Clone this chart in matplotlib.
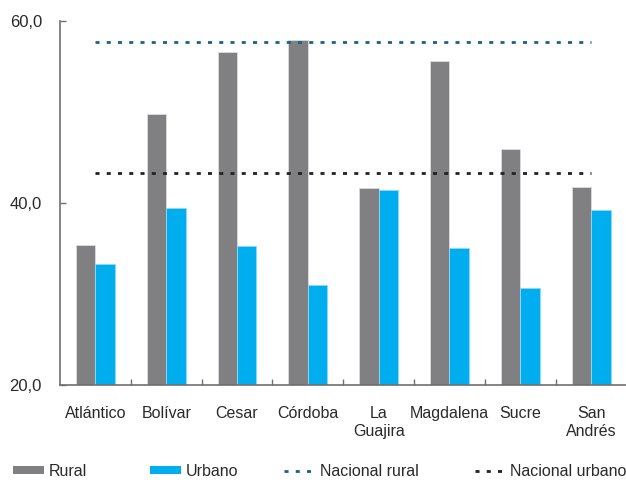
import matplotlib
matplotlib.use("Agg")
import matplotlib.pyplot as plt
from matplotlib.lines import Line2D
from matplotlib.patches import Patch
import numpy as np

plt.rcParams['font.family'] = ['Liberation Sans', 'DejaVu Sans']

categories = ["Atlántico", "Bolívar", "Cesar", "Córdoba", "La\nGuajira",
              "Magdalena", "Sucre", "San\nAndrés"]
rural = [35.4, 49.8, 56.6, 57.9, 41.6, 55.6, 45.9, 41.8]
urbano = [33.3, 39.4, 35.3, 31.0, 41.4, 35.1, 30.7, 39.2]
nacional_rural = 57.7
nacional_urbano = 43.3
yticks = [20, 40, 60]
ytick_labels = ["20,0", "40,0", "60,0"]

c_rural = "#808083"
c_urbano = "#00AEEF"
c_nac_rural = "#1b6382"
c_nac_urbano = "#222222"
txt = "#2a2a2a"
spine_c = "#6f6f6f"
dash = (1.45, 2.6)
ref_lw = 2.0

fig = plt.figure(figsize=(6.26, 4.80), dpi=100)
ax = fig.add_axes([0.0958, 0.198, 0.905, 0.758])

x = np.arange(len(categories))
w = 0.275
ax.bar(x - w / 2, rural, width=w, color=c_rural, edgecolor="#dcdcdc",
       linewidth=0.6, zorder=2)
ax.bar(x + w / 2, urbano, width=w, color=c_urbano, edgecolor="#8fd9f7",
       linewidth=0.6, zorder=2)

ax.plot([x[0], x[-1]], [nacional_rural] * 2, color=c_nac_rural, lw=ref_lw,
        dashes=dash, zorder=3)
ax.plot([x[0], x[-1]], [nacional_urbano] * 2, color=c_nac_urbano, lw=ref_lw,
        dashes=dash, zorder=3)

ax.set_xlim(-0.5, len(categories) - 0.5)
ax.set_ylim(20, 60)

ax.set_yticks(yticks)
ax.set_yticklabels(ytick_labels)
ax.tick_params(axis='y', direction='in', length=4.5, width=1, color=spine_c,
               pad=13, labelsize=12, labelcolor=txt)

ax.set_xticks(x)
ax.set_xticklabels(categories, linespacing=1.2)
ax.set_xticks(np.arange(0.5, len(categories) - 0.5, 1), minor=True)
ax.tick_params(axis='x', which='major', length=0, pad=15.5, labelsize=11.5,
               labelcolor=txt)
ax.tick_params(axis='x', which='minor', direction='in', length=4.5, width=1,
               color=spine_c)
for lbl in ax.get_xticklabels():
    lbl.set_verticalalignment('top')

for s in ['top', 'right']:
    ax.spines[s].set_visible(False)
ax.spines['left'].set_color(spine_c)
ax.spines['bottom'].set_color(spine_c)
ax.spines['left'].set_linewidth(1.2)
ax.spines['bottom'].set_linewidth(1.2)

handles = [
    (Patch(facecolor=c_rural, edgecolor='none'), "Rural", 0.020),
    (Patch(facecolor=c_urbano, edgecolor='none'), "Urbano", 0.240),
    (Line2D([], [], color=c_nac_rural, lw=ref_lw, dashes=dash),
     "Nacional rural", 0.454),
    (Line2D([], [], color=c_nac_urbano, lw=ref_lw, dashes=dash),
     "Nacional urbano", 0.758),
]
for h, label, xpos in handles:
    fig.legend([h], [label], loc='center left', bbox_to_anchor=(xpos, 0.018),
               frameon=False, fontsize=11.5, handlelength=1.95,
               handleheight=0.45, handletextpad=0.3, borderpad=0,
               borderaxespad=0, labelcolor=txt)

fig.savefig("out.png", dpi=100)
